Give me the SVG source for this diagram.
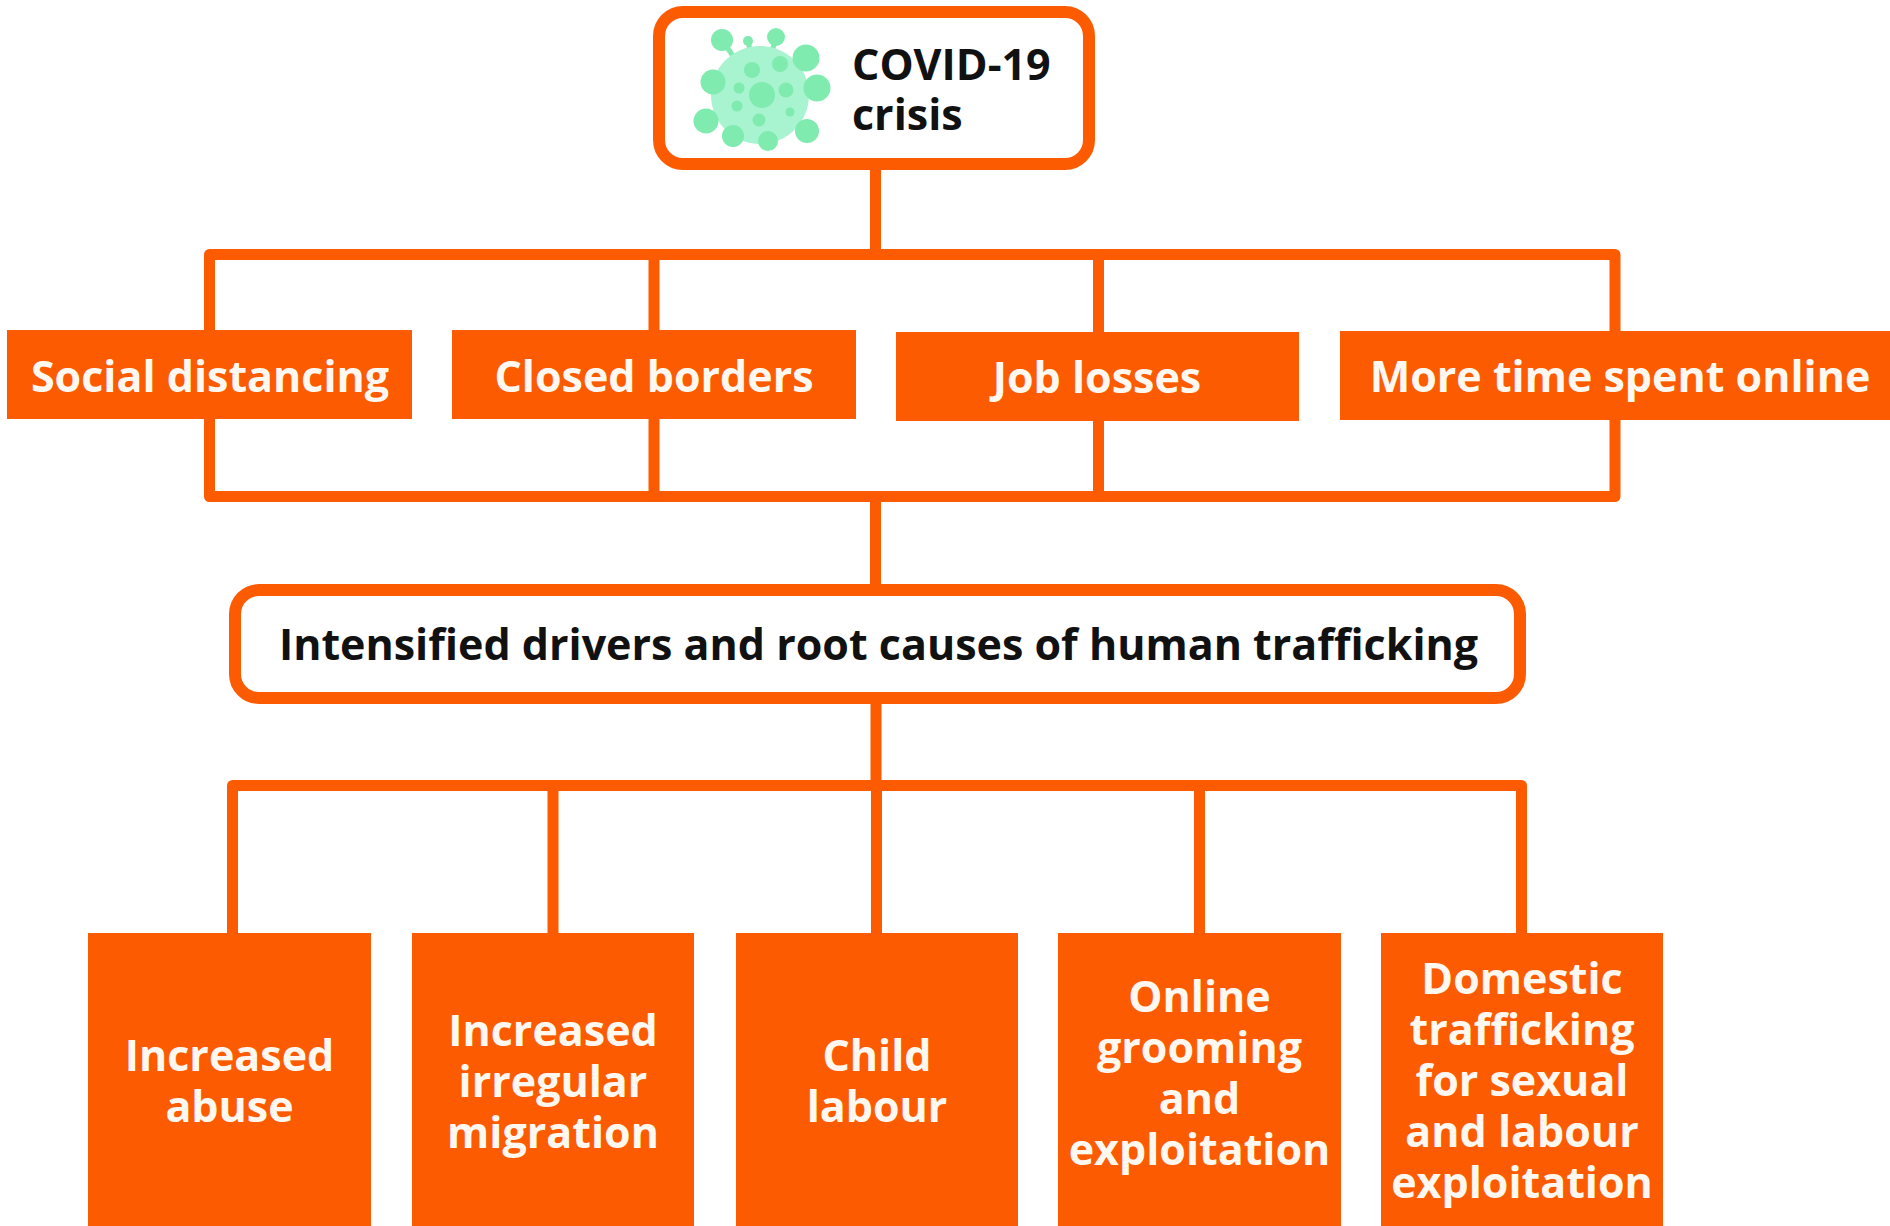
<svg xmlns="http://www.w3.org/2000/svg" width="1890" height="1226" viewBox="0 0 1890 1226">
<style>
.bg{fill:#ffffff}
.ln{fill:none;stroke:#FC5B02;stroke-width:11;stroke-linejoin:round}
.rb{fill:#ffffff;stroke:#FC5B02;stroke-width:12}
.ob{fill:#FC5B02}
.t{font-family:"Open Sans","Noto Sans","Liberation Sans",sans-serif;font-weight:700;font-size:43px}
.w{fill:#FFF8F0;text-anchor:middle}
.k{fill:#111111}
.body{fill:#A8F3D0}
.dot{fill:#7FEBAE}
.stem{stroke:#7FEBAE;stroke-width:5;stroke-linecap:round}
</style>
<rect class="bg" x="0" y="0" width="1890" height="1226"/>
<g id="connectors">
<line class="ln" x1="875.5" y1="164" x2="875.5" y2="255"/>
<path class="ln" d="M209.5,335 V254.5 H1615 V335"/>
<line class="ln" x1="654" y1="254.5" x2="654" y2="335"/>
<line class="ln" x1="1098.5" y1="254.5" x2="1098.5" y2="335"/>
<path class="ln" d="M209.5,415 V496.5 H1615 V415"/>
<line class="ln" x1="654" y1="415" x2="654" y2="496.5"/>
<line class="ln" x1="1098.5" y1="415" x2="1098.5" y2="496.5"/>
<line class="ln" x1="875.5" y1="496.5" x2="875.5" y2="590"/>
<line class="ln" x1="876" y1="698" x2="876" y2="785.5"/>
<path class="ln" d="M232.5,940 V785.5 H1521.5 V940"/>
<line class="ln" x1="553" y1="785.5" x2="553" y2="940"/>
<line class="ln" x1="876.5" y1="785.5" x2="876.5" y2="940"/>
<line class="ln" x1="1199.5" y1="785.5" x2="1199.5" y2="940"/>
</g>
<g id="covid">
<rect class="rb" x="659" y="12" width="430" height="152" rx="24"/>
<g id="virus-icon">
<line class="stem" x1="760" y1="95" x2="722" y2="40"/>
<line class="stem" x1="760" y1="95" x2="748" y2="41"/>
<line class="stem" x1="760" y1="95" x2="776" y2="37"/>
<line class="stem" x1="760" y1="95" x2="806" y2="58"/>
<line class="stem" x1="760" y1="95" x2="817" y2="88"/>
<line class="stem" x1="760" y1="95" x2="807" y2="131"/>
<line class="stem" x1="760" y1="95" x2="768" y2="141"/>
<line class="stem" x1="760" y1="95" x2="733" y2="136"/>
<line class="stem" x1="760" y1="95" x2="706" y2="121"/>
<line class="stem" x1="760" y1="95" x2="713" y2="82"/>
<circle class="body" cx="760" cy="95" r="49"/>
<circle class="dot" cx="722" cy="40" r="11"/>
<circle class="dot" cx="748" cy="41" r="5"/>
<circle class="dot" cx="776" cy="37" r="9"/>
<circle class="dot" cx="806" cy="58" r="13.5"/>
<circle class="dot" cx="817" cy="88" r="13.5"/>
<circle class="dot" cx="807" cy="131" r="12"/>
<circle class="dot" cx="768" cy="141" r="10"/>
<circle class="dot" cx="733" cy="136" r="11"/>
<circle class="dot" cx="706" cy="121" r="12.5"/>
<circle class="dot" cx="713" cy="82" r="12.5"/>
<circle class="dot" cx="762" cy="95" r="13"/>
<circle class="dot" cx="752" cy="70" r="8"/>
<circle class="dot" cx="780" cy="64" r="8"/>
<circle class="dot" cx="739" cy="88" r="5.5"/>
<circle class="dot" cx="786" cy="90" r="7.5"/>
<circle class="dot" cx="737" cy="106" r="5.5"/>
<circle class="dot" cx="759" cy="120" r="6.5"/>
<circle class="dot" cx="790" cy="112" r="4.5"/>
</g>
<text class="t k" x="852" y="80">COVID-19</text>
<text class="t k" x="852" y="130">crisis</text>
</g>
<g id="social-distancing">
<rect class="ob" x="7" y="330" width="405" height="89"/>
<text class="t w" x="210" y="392">Social distancing</text>
</g>
<g id="closed-borders">
<rect class="ob" x="452" y="330" width="404" height="89"/>
<text class="t w" x="654" y="392">Closed borders</text>
</g>
<g id="job-losses">
<rect class="ob" x="896" y="332" width="403" height="89"/>
<text class="t w" x="1097" y="393">Job losses</text>
</g>
<g id="more-time-online">
<rect class="ob" x="1340" y="331" width="550" height="89"/>
<text class="t w" x="1620" y="392">More time spent online</text>
</g>
<g id="intensified-drivers">
<rect class="rb" x="235" y="590" width="1285" height="108" rx="24"/>
<text class="t k" x="878.5" y="660" text-anchor="middle">Intensified drivers and root causes of human trafficking</text>
</g>
<g id="increased-abuse">
<rect class="ob" x="88" y="933" width="283" height="293"/>
<text class="t w" x="229.5" y="1071">Increased</text>
<text class="t w" x="229.5" y="1122">abuse</text>
</g>
<g id="irregular-migration">
<rect class="ob" x="412" y="933" width="282" height="293"/>
<text class="t w" x="553" y="1046">Increased</text>
<text class="t w" x="553" y="1097">irregular</text>
<text class="t w" x="553" y="1148">migration</text>
</g>
<g id="child-labour">
<rect class="ob" x="736" y="933" width="282" height="293"/>
<text class="t w" x="877" y="1071">Child</text>
<text class="t w" x="877" y="1122">labour</text>
</g>
<g id="online-grooming">
<rect class="ob" x="1058" y="933" width="283" height="293"/>
<text class="t w" x="1199.5" y="1012">Online</text>
<text class="t w" x="1199.5" y="1063">grooming</text>
<text class="t w" x="1199.5" y="1114">and</text>
<text class="t w" x="1199.5" y="1165">exploitation</text>
</g>
<g id="domestic-trafficking">
<rect class="ob" x="1381" y="933" width="282" height="293"/>
<text class="t w" x="1522" y="994">Domestic</text>
<text class="t w" x="1522" y="1045">trafficking</text>
<text class="t w" x="1522" y="1096">for sexual</text>
<text class="t w" x="1522" y="1147">and labour</text>
<text class="t w" x="1522" y="1198">exploitation</text>
</g>
</svg>
